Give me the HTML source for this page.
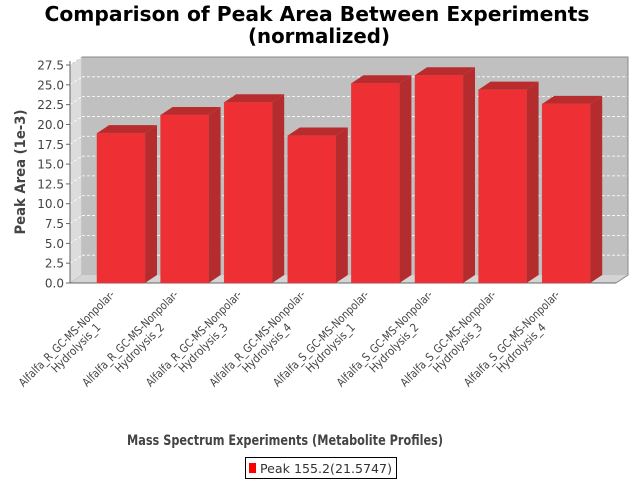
<!DOCTYPE html>
<html><head><meta charset="utf-8"><style>
body{margin:0;background:#fff;}
svg{display:block;font-family:"DejaVu Sans","Liberation Sans",sans-serif;}
</style></head><body>
<svg id="chart" width="640" height="480">
<text x="317" y="21" text-anchor="middle" font-size="20" font-weight="bold" fill="#000" textLength="545" lengthAdjust="spacingAndGlyphs">Comparison of Peak Area Between Experiments</text>
<text x="319" y="43" text-anchor="middle" font-size="20" font-weight="bold" fill="#000" textLength="142" lengthAdjust="spacingAndGlyphs">(normalized)</text>
<g id="plot"></g>
<text transform="translate(25,172) rotate(-90)" text-anchor="middle" font-size="14" font-weight="bold" fill="#444" textLength="125" lengthAdjust="spacingAndGlyphs">Peak Area (1e-3)</text>
<text x="285" y="445" text-anchor="middle" font-size="14" font-weight="bold" fill="#444" textLength="316" lengthAdjust="spacingAndGlyphs">Mass Spectrum Experiments (Metabolite Profiles)</text>
<g>
<rect x="245.5" y="457.5" width="151" height="21" fill="#fff" stroke="#000"/>
<rect x="249" y="463" width="7" height="10" fill="#ff0000"/>
<text x="260" y="473" font-size="12" fill="#333" textLength="132" lengthAdjust="spacingAndGlyphs">Peak 155.2(21.5747)</text>
</g>
</svg>
<script>
const categories=["Alfalfa_R_GC-MS-Nonpolar-|Hydrolysis_1","Alfalfa_R_GC-MS-Nonpolar-|Hydrolysis_2","Alfalfa_R_GC-MS-Nonpolar-|Hydrolysis_3","Alfalfa_R_GC-MS-Nonpolar-|Hydrolysis_4","Alfalfa_S_GC-MS-Nonpolar-|Hydrolysis_1","Alfalfa_S_GC-MS-Nonpolar-|Hydrolysis_2","Alfalfa_S_GC-MS-Nonpolar-|Hydrolysis_3","Alfalfa_S_GC-MS-Nonpolar-|Hydrolysis_4"];
const values=[18.9,21.2,22.8,18.6,25.2,26.2,24.4,22.6];
const yTicks=[0,2.5,5,7.5,10,12.5,15,17.5,20,22.5,25,27.5];
const yTickLabels=["0.0","2.5","5.0","7.5","10.0","12.5","15.0","17.5","20.0","22.5","25.0","27.5"];
const NS="http://www.w3.org/2000/svg";
const g=document.getElementById('plot');
const X0=70,X1=616,Y0=283,DX=12,DY=8,YMAX=27.5,YTOP=65;
function y(v){return Y0-(v/YMAX)*(Y0-YTOP);}
function x(i){return 97+i*63.6;}
const BW=48;
function add(tag,attrs,name,parent){const e=document.createElementNS(NS,tag);for(const k in attrs)e.setAttribute(k,attrs[k]);


(parent||g).appendChild(e);return e;}
add('polygon',{points:`${X0},${Y0} ${X0+DX},${Y0-DY} ${X0+DX},${YTOP-DY} ${X0},${YTOP}`,fill:'#dcdcdc',stroke:'#888','stroke-width':0.5},'left-wall');
add('rect',{x:X0+DX,y:YTOP-DY,width:X1-X0,height:Y0-YTOP,fill:'#c0c0c0'},'back-wall');
add('polygon',{points:`${X0},${Y0} ${X0+DX},${Y0-DY} ${X1+DX},${Y0-DY} ${X1},${Y0}`,fill:'#d4d4d4'},'floor');
yTicks.forEach((t,i)=>{
 const yy=y(t);
 if(t>0){add('line',{x1:X0+DX,y1:yy-DY,x2:X1+DX,y2:yy-DY,stroke:'#fff','stroke-width':0.8,'stroke-dasharray':'3,2'},'gridline');
 add('line',{x1:X0,y1:yy,x2:X0+DX,y2:yy-DY,stroke:'#fff','stroke-width':0.8,'stroke-dasharray':'3,2'},'gridline-side');}
 add('line',{x1:X0-4,y1:yy,x2:X0,y2:yy,stroke:'#666'},'y-tick');
 const tx=add('text',{x:X0-6,y:yy+4.5,'text-anchor':'end','font-size':12,fill:'#444'},'y-tick-label');tx.textContent=yTickLabels[i];
});
add('polyline',{points:`${X0+DX},${YTOP-DY} ${X1+DX},${YTOP-DY} ${X1+DX},${Y0-DY} ${X1},${Y0}`,fill:'none',stroke:'#888'},'plot-border');
add('line',{x1:X0,y1:YTOP-4,x2:X0,y2:Y0,stroke:'#666'},'y-axis');
add('line',{x1:X0,y1:Y0,x2:X1,y2:Y0,stroke:'#666'},'x-axis');
values.forEach((v,i)=>{
 const xl=x(i),xr=xl+BW,yt=y(v);
 const bg=add('g',{},'bar-'+(i+1));
 add('polygon',{points:`${xr},${Y0} ${xr+DX},${Y0-DY} ${xr+DX},${yt-DY} ${xr},${yt}`,fill:'#b52c2f'},'bar-side',bg);
 add('polygon',{points:`${xl},${yt} ${xl+DX},${yt-DY} ${xr+DX},${yt-DY} ${xr},${yt}`,fill:'#b82c2e'},'bar-top',bg);
 add('rect',{x:xl,y:yt,width:BW,height:Y0-yt,fill:'#ee2f33',stroke:'#d04040','stroke-width':0.5},'bar-front',bg);
 const parts=categories[i].split('|');
 const cx=xl+BW/2-13, cy=288;
 const t=add('text',{transform:`translate(${cx},${cy}) rotate(-45)`,'font-size':11.5,fill:'#444','text-anchor':'middle'},'x-tick-label');
 const s1=document.createElementNS(NS,'tspan');s1.setAttribute('x',-65);s1.setAttribute('dy','0.9em');s1.setAttribute('textLength','130');s1.setAttribute('lengthAdjust','spacingAndGlyphs');s1.textContent=parts[0];t.appendChild(s1);
 const s2=document.createElementNS(NS,'tspan');s2.setAttribute('x',-65);s2.setAttribute('dy','1.15em');s2.setAttribute('textLength','64');s2.setAttribute('lengthAdjust','spacingAndGlyphs');s2.textContent=parts[1];t.appendChild(s2);
});
</script>
</body></html>
